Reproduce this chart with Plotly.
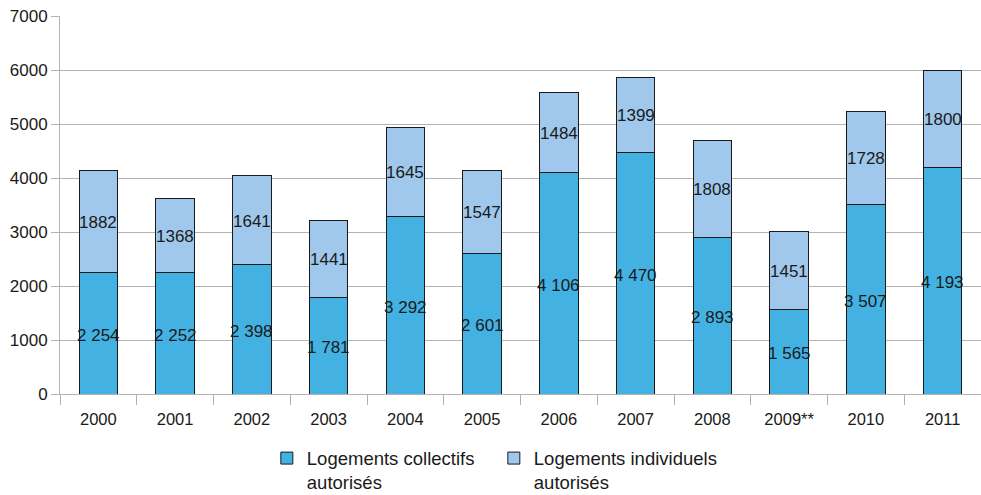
import plotly.graph_objects as go

years = ["2000", "2001", "2002", "2003", "2004", "2005", "2006", "2007", "2008", "2009**", "2010", "2011"]
collectifs = [2254, 2252, 2398, 1781, 3292, 2601, 4106, 4470, 2893, 1565, 3507, 4193]
individuels = [1882, 1368, 1641, 1441, 1645, 1547, 1484, 1399, 1808, 1451, 1728, 1800]
y_ticks = [0, 1000, 2000, 3000, 4000, 5000, 6000, 7000]

c_coll = "#44b1e3"
c_ind = "#9fc8ec"
font_family = "Liberation Sans, Arial, sans-serif"

def fmt_space(v):
    return f"{v:,}".replace(",", " ")

fig = go.Figure()
fig.add_trace(go.Bar(
    x=years, y=collectifs, name="Logements collectifs<br>autorisés",
    marker=dict(color=c_coll, line=dict(color="#1a1a1a", width=1)),
    width=0.5,
))
fig.add_trace(go.Bar(
    x=years, y=individuels, name="Logements individuels<br>autorisés",
    marker=dict(color=c_ind, line=dict(color="#1a1a1a", width=1)),
    width=0.5,
))

annotations = []
for idx, (c, i) in enumerate(zip(collectifs, individuels)):
    annotations.append(dict(x=idx, y=c / 2, text=fmt_space(c), showarrow=False,
                            xref="x", yref="y", yshift=-2,
                            font=dict(size=17, color="#1a1a1a", family=font_family)))
    annotations.append(dict(x=idx, y=c + i / 2, text=str(i), showarrow=False,
                            xref="x", yref="y", yshift=-1,
                            font=dict(size=17, color="#1a1a1a", family=font_family)))

fig.update_layout(
    barmode="stack",
    width=981, height=495,
    margin=dict(l=60, r=0, t=16, b=101),
    plot_bgcolor="white", paper_bgcolor="white",
    font=dict(family=font_family, color="#1a1a1a", size=17),
    annotations=annotations,
    legend=dict(
        orientation="h", xref="container", yref="container",
        x=0.272, xanchor="left", y=0.112, yanchor="top",
        font=dict(size=18.5, color="#1a1a1a"), valign="top",
        traceorder="normal", itemwidth=30, entrywidth=182,
    ),
)
fig.update_xaxes(
    type="category", range=[-0.5, 11.5],
    showline=True, linecolor="#b3b3b3", linewidth=1,
    ticks="outside", tickson="boundaries", ticklen=10, tickcolor="#b3b3b3",
    ticklabelstandoff=10,
    showgrid=False, tickfont=dict(size=16.5),
)
fig.update_yaxes(
    range=[0, 7000], tickvals=y_ticks, ticktext=[str(v) for v in y_ticks],
    showline=True, linecolor="#b3b3b3", linewidth=1,
    ticks="outside", ticklen=8, tickcolor="#b3b3b3",
    showgrid=True, gridcolor="#b3b3b3", gridwidth=1,
    zeroline=False, tickfont=dict(size=17),
)

fig.write_html("out.html")
